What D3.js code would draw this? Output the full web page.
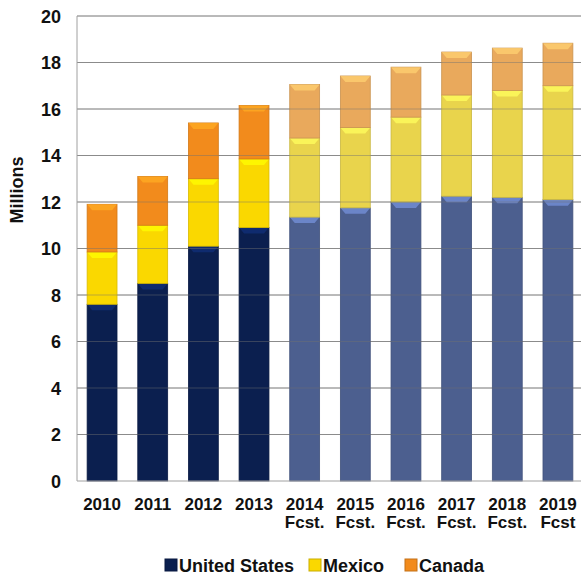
<!DOCTYPE html>
<html>
<head>
<meta charset="utf-8">
<script src="https://cdn.jsdelivr.net/npm/d3@7"></script>
<style>
  body { margin: 0; background: #fff; }
  text { font-family: "Liberation Sans", Arial, sans-serif; font-weight: bold; fill: #111; }
</style>
</head>
<body>
<svg id="chart"></svg>
<script>
// data
const years = ['2010', '2011', '2012', '2013', '2014', '2015', '2016', '2017', '2018', '2019'];
const subLabels = ['', '', '', '', 'Fcst.', 'Fcst.', 'Fcst.', 'Fcst.', 'Fcst.', 'Fcst'];
const forecast = [false, false, false, false, true, true, true, true, true, true];
const unitedStates = [7.6, 8.5, 10.1, 10.9, 11.35, 11.75, 12.0, 12.25, 12.2, 12.1];
const mexico = [2.25, 2.5, 2.9, 2.95, 3.4, 3.45, 3.65, 4.35, 4.6, 4.9];
const canada = [2.05, 2.1, 2.4, 2.3, 2.3, 2.22, 2.15, 1.85, 1.82, 1.83];
const series = ['United States', 'Mexico', 'Canada'];
const yTicks = [0, 2, 4, 6, 8, 10, 12, 14, 16, 18, 20];

const colors = {
  'United States': ['#0b1f4f', '#4c5f8f'],
  'Mexico': ['#fad800', '#e9d44c'],
  'Canada': ['#f28b1c', '#e9a95c']
};

const W = 581, H = 578;
const m = { top: 16, right: 0, bottom: 97, left: 77 };
const w = W - m.left - m.right, h = H - m.top - m.bottom;

const svg = d3.select('#chart').attr('width', W).attr('height', H);
const g = svg.append('g').attr('transform', `translate(${m.left},${m.top})`);

const x = d3.scaleBand().domain(years).range([0, 506]).paddingInner(0.41).paddingOuter(0.2);
const y = d3.scaleLinear().domain([0, 20]).range([h, 0]);

// stack the three countries
const rows = years.map((yr, i) => ({ year: yr, fc: forecast[i], 'United States': unitedStates[i], 'Mexico': mexico[i], 'Canada': canada[i] }));
const stacked = d3.stack().keys(series)(rows);

// grid under bars
g.append('g').selectAll('line').data(yTicks.filter(t => t > 0)).enter().append('line')
  .attr('x1', 0).attr('x2', w)
  .attr('y1', d => y(d)).attr('y2', d => y(d))
  .attr('stroke', '#a0a0a0').attr('stroke-width', 1);

const layers = g.append('g').selectAll('g').data(stacked).enter().append('g');

layers.selectAll('rect').data(d => d.map(p => ({ key: d.key, p }))).enter().append('rect')
  .attr('x', d => x(d.p.data.year))
  .attr('width', x.bandwidth())
  .attr('y', d => y(d.p[1]))
  .attr('height', d => y(d.p[0]) - y(d.p[1]))
  .attr('fill', d => colors[d.key][d.p.data.fc ? 1 : 0])
  .attr('stroke', d => d3.color(colors[d.key][d.p.data.fc ? 1 : 0]).darker(0.4))
  .attr('stroke-width', 0.8);

// bevel highlight at the top of each segment
layers.selectAll('path').data(d => d.map(p => ({ key: d.key, p }))).enter().append('path')
  .attr('d', d => {
    const x0 = x(d.p.data.year), bw = x.bandwidth(), t = y(d.p[1]), bh = 6;
    return `M${x0},${t}L${x0 + bw},${t}L${x0 + bw - 5},${t + bh}L${x0 + 5},${t + bh}Z`;
  })
  .attr('fill', d => d3.color(colors[d.key][d.p.data.fc ? 1 : 0]).brighter(d.key === 'United States' ? 1.2 : 0.6))
  .attr('opacity', 0.75);

// grid over bars, faint
g.append('g').selectAll('line').data(yTicks.filter(t => t > 0)).enter().append('line')
  .attr('x1', 0).attr('x2', w)
  .attr('y1', d => y(d)).attr('y2', d => y(d))
  .attr('stroke', '#707070').attr('stroke-opacity', 0.45);

// axis frame
g.append('line').attr('x1', 0).attr('x2', 0).attr('y1', 0).attr('y2', h).attr('stroke', '#a0a0a0');
g.append('line').attr('x1', 0).attr('x2', w).attr('y1', h).attr('y2', h).attr('stroke', '#a0a0a0');

const yAxis = d3.axisLeft(y).tickValues(yTicks).tickSize(0).tickPadding(16);
g.append('g').call(yAxis).call(s => s.select('.domain').remove())
  .selectAll('text').style('font-size', '18px').attr('dy', '0.35em');

// two-line x labels, drawn as separate texts
const xg = g.append('g');
xg.selectAll('text.yr').data(years).enter().append('text').attr('class', 'yr')
  .attr('x', d => x(d) + x.bandwidth() / 2).attr('y', h + 29)
  .attr('text-anchor', 'middle').style('font-size', '17px').text(d => d);
xg.selectAll('text.fc').data(years).enter().append('text').attr('class', 'fc')
  .attr('x', d => x(d) + x.bandwidth() / 2).attr('y', h + 47)
  .attr('text-anchor', 'middle').style('font-size', '17px').text((d, i) => subLabels[i]);

svg.append('text').attr('transform', `translate(23,190) rotate(-90)`)
  .attr('text-anchor', 'middle').style('font-size', '18px').text('Millions');

// legend
const legendX = [165, 309, 405];
const lg = svg.append('g').selectAll('g').data(series).enter().append('g')
  .attr('transform', (d, i) => `translate(${legendX[i]},${572})`);
lg.append('rect').attr('x', 0).attr('y', -13).attr('width', 12).attr('height', 12)
  .attr('fill', d => colors[d][0]).attr('stroke', d => d3.color(colors[d][0]).darker(0.6));
lg.append('text').attr('x', 14).attr('y', 0).style('font-size', '18px').text(d => d);
</script>
</body>
</html>
